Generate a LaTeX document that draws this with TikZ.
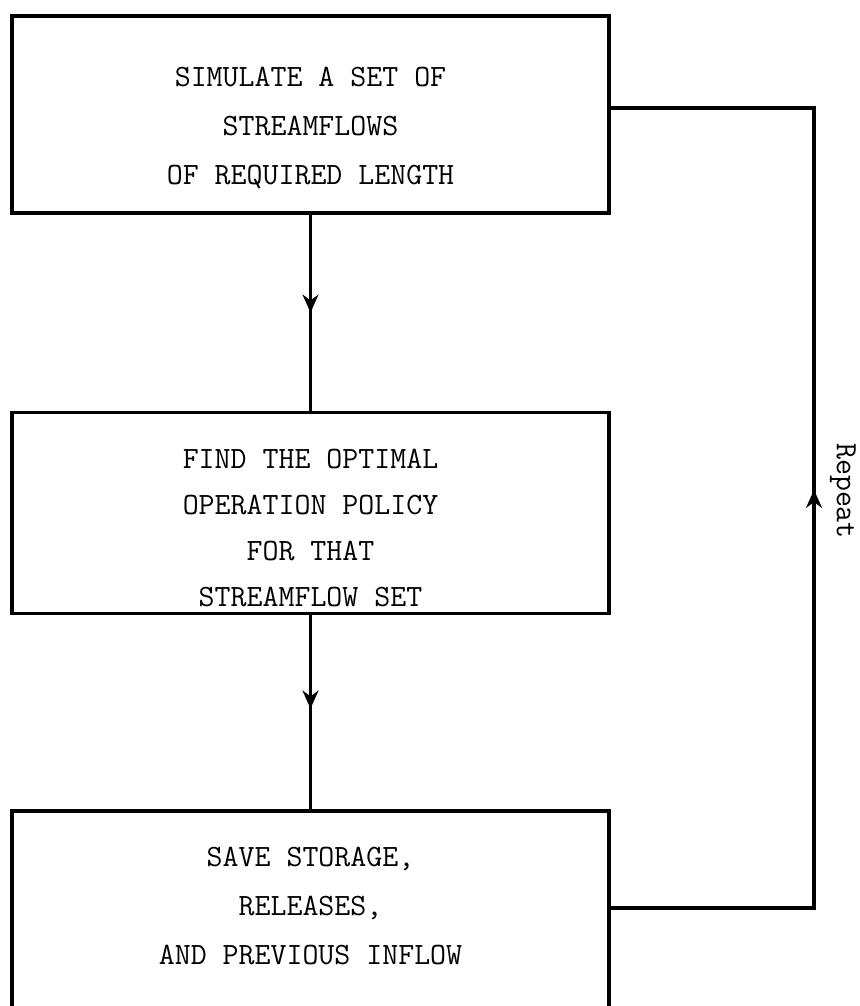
\documentclass[tikz,border=0pt]{standalone}
\usetikzlibrary{arrows.meta,decorations.markings}
\begin{document}
\begin{tikzpicture}[
x = 0.5pt, y = -0.5pt,
box/.style = {rectangle, draw, line width=1.6pt, minimum width=298.5pt, align=center,
  font=\fontsize{15.5}{24.5}\selectfont\ttfamily},
flow/.style = {line width=1.6pt},
midarrow/.style = {postaction={decorate}, decoration={markings,
  mark=at position #1 with {\arrow{Stealth[length=9pt,width=8pt]}}}}
]
  \useasboundingbox (0,0) rectangle (860,1006);
  \node[box, minimum height=98.5pt] (simulate) at (310.5,114.5)
    {\rule{0pt}{23pt}SIMULATE A SET OF\\STREAMFLOWS\\OF REQUIRED LENGTH};
  \node[box, minimum height=100pt, font=\fontsize{15.5}{23}\selectfont\ttfamily] (optimal) at (310.5,513)
    {\rule{0pt}{25pt}FIND THE OPTIMAL\\OPERATION POLICY\\FOR THAT\\STREAMFLOW SET};
  \node[box, minimum height=115pt] (save) at (310.5,926)
    {SAVE STORAGE,\\RELEASES,\\AND PREVIOUS INFLOW\rule[-20pt]{0pt}{1pt}};
  % feedback rail
  \coordinate (railtop) at (814,108);
  \coordinate (railbot) at (814,908);
  \draw[flow, midarrow=0.5] (simulate) -- (optimal);
  \draw[flow, midarrow=0.48] (optimal) -- (save);
  \draw[flow, midarrow=0.515] (railbot -| save.east) -- (railbot) -- (railtop) -- (railtop -| simulate.east);
  \node[rotate=-90, font=\fontsize{15.5}{18}\selectfont\ttfamily] (repeatlabel) at (843,491) {Repeat};
\end{tikzpicture}
\end{document}
